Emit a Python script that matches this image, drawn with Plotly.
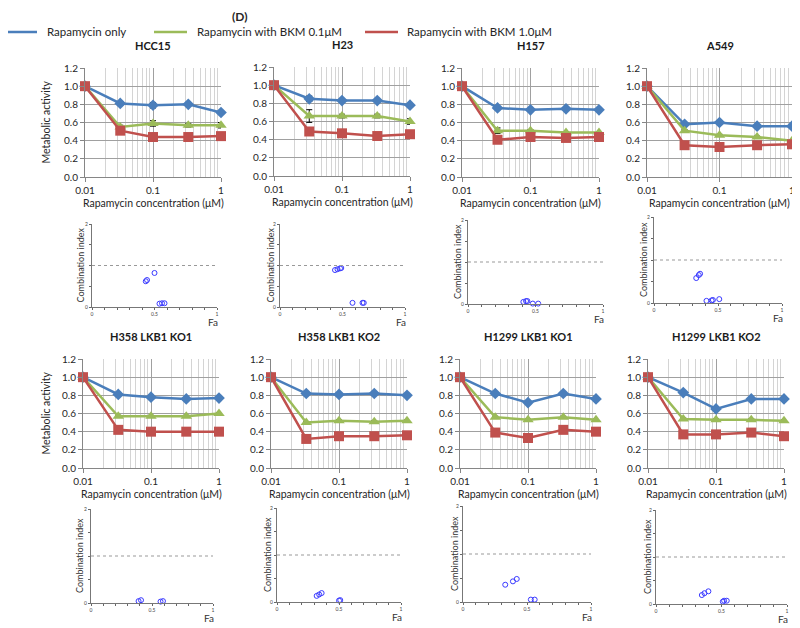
import plotly.graph_objects as go

# rapamycin concentrations (uM), first point is the control
conc = [0.01, 0.033, 0.1, 0.33, 1]

cell_lines = ["HCC15", "H23", "H157", "A549",
              "H358 LKB1 KO1", "H358 LKB1 KO2", "H1299 LKB1 KO1", "H1299 LKB1 KO2"]

# metabolic activity, one row per cell line
rapa_only = [
    [1.0, 0.81, 0.79, 0.80, 0.71],
    [1.0, 0.85, 0.83, 0.83, 0.78],
    [1.0, 0.76, 0.74, 0.75, 0.74],
    [1.0, 0.58, 0.60, 0.56, 0.56],
    [1.0, 0.81, 0.78, 0.76, 0.77],
    [1.0, 0.82, 0.81, 0.82, 0.80],
    [1.0, 0.82, 0.72, 0.82, 0.76],
    [1.0, 0.83, 0.65, 0.76, 0.76],
]
bkm_01 = [
    [1.0, 0.55, 0.59, 0.57, 0.57],
    [1.0, 0.66, 0.66, 0.66, 0.60],
    [1.0, 0.51, 0.51, 0.49, 0.49],
    [1.0, 0.51, 0.46, 0.44, 0.40],
    [1.0, 0.57, 0.57, 0.57, 0.60],
    [1.0, 0.50, 0.52, 0.51, 0.52],
    [1.0, 0.56, 0.53, 0.56, 0.53],
    [1.0, 0.54, 0.53, 0.53, 0.52],
]
bkm_10 = [
    [1.0, 0.51, 0.44, 0.44, 0.45],
    [1.0, 0.49, 0.47, 0.44, 0.46],
    [1.0, 0.41, 0.44, 0.43, 0.44],
    [1.0, 0.35, 0.33, 0.35, 0.36],
    [1.0, 0.42, 0.40, 0.40, 0.40],
    [1.0, 0.32, 0.35, 0.35, 0.36],
    [1.0, 0.39, 0.33, 0.42, 0.40],
    [1.0, 0.37, 0.37, 0.39, 0.35],
]
# error bars (SD)
err_rapa = [
    [0, 0.02, 0.03, 0.01, 0.01],
    [0, 0.03, 0.02, 0.01, 0.01],
    [0, 0.01, 0.01, 0.01, 0.01],
    [0, 0.01, 0.01, 0.01, 0.01],
    [0, 0.01, 0.02, 0.01, 0.01],
    [0, 0.01, 0.01, 0.01, 0.01],
    [0, 0.01, 0.01, 0.01, 0.01],
    [0, 0.01, 0.01, 0.01, 0.01],
]
err_01 = [
    [0, 0.02, 0.03, 0.02, 0.03],
    [0, 0.07, 0.02, 0.02, 0.03],
    [0, 0.03, 0.01, 0.01, 0.01],
    [0, 0.01, 0.01, 0.01, 0.01],
    [0, 0.01, 0.01, 0.01, 0.01],
    [0, 0.01, 0.01, 0.01, 0.01],
    [0, 0.01, 0.01, 0.01, 0.01],
    [0, 0.01, 0.01, 0.01, 0.01],
]

# combination index plots: fraction affected and CI
ci_fa = [
    [0.43, 0.44, 0.50, 0.54, 0.56, 0.58],
    [0.44, 0.46, 0.48, 0.49, 0.58, 0.66, 0.67],
    [0.41, 0.43, 0.44, 0.48, 0.52],
    [0.33, 0.35, 0.36, 0.41, 0.45, 0.46, 0.51],
    [0.39, 0.41, 0.57, 0.59],
    [0.32, 0.34, 0.36, 0.50, 0.51],
    [0.33, 0.39, 0.42, 0.53, 0.56],
    [0.35, 0.37, 0.40, 0.51, 0.52, 0.54],
]
ci_val = [
    [0.62, 0.65, 0.82, 0.08, 0.09, 0.09],
    [0.89, 0.91, 0.93, 0.94, 0.10, 0.10, 0.10],
    [0.05, 0.07, 0.07, 0.01, 0.01],
    [0.58, 0.65, 0.68, 0.05, 0.06, 0.07, 0.09],
    [0.04, 0.06, 0.03, 0.04],
    [0.13, 0.16, 0.19, 0.03, 0.04],
    [0.36, 0.43, 0.48, 0.05, 0.05],
    [0.19, 0.23, 0.27, 0.05, 0.07, 0.07],
]

BLUE = "#4a7ebb"
GREEN = "#9bbb59"
RED = "#c0504d"
FONT = "Lato"

# the page has an 8px body margin, so the figure fills the rest of the window
OFF = 8
W, H = 800 - OFF, 628 - OFF

# plot areas in window pixels: left, right, top, bottom
dr_box = [(85, 221, 68, 177), (274, 410, 67, 176), (462, 599, 68, 177), (647, 792, 68, 177),
          (83, 219, 359, 468), (271, 407, 359, 468), (460, 596, 359, 468), (648, 784, 359, 468)]
ci_box = [(92, 217, 224, 307), (280, 405, 224, 307), (468, 603, 220, 304), (654, 782, 217, 303),
          (91, 213, 509, 603), (277, 401, 508, 602), (463, 591, 506, 602), (656, 787, 510, 604)]
ci_label_x = [80, 270, 457, 643, 79, 267, 454, 647]


def fx(p):
    return (p - OFF) / W


def fy(p):
    return 1 - (p - OFF) / H


def note(text, x, y, size, color="#262626", **kw):
    d = dict(text=text, x=fx(x), y=fy(y), xref="paper", yref="paper", showarrow=False,
             xanchor="center", yanchor="middle", font=dict(size=size, color=color))
    d.update(kw)
    return d


fig = go.Figure()
layout = {}
annotations = []
shapes = []

minor_vals = [m * 10 ** e for e in (-2, -1) for m in range(2, 10)]

for i, name in enumerate(cell_lines):
    n = i + 1
    xa, ya = ("x%d" % n), ("y%d" % n)
    series = [
        (rapa_only[i], err_rapa[i], BLUE, "diamond", 9),
        (bkm_01[i], err_01[i], GREEN, "triangle-up", 10),
        (bkm_10[i], None, RED, "square", 10),
    ]
    for vals, err, col, sym, sz in series:
        fig.add_trace(go.Scatter(
            x=conc, y=vals, xaxis=xa, yaxis=ya, mode="lines+markers",
            line=dict(color=col, width=2.5),
            marker=dict(symbol=sym, size=sz, color=col),
            error_y=dict(type="data", array=err, color="black", thickness=1, width=3,
                         visible=err is not None),
            showlegend=False, cliponaxis=False))

    l, r, t, b = dr_box[i]
    layout["xaxis%d" % n] = dict(
        domain=[fx(l), fx(r)], anchor=ya, type="log", range=[-2, 0], automargin=False,
        tickvals=[0.01, 0.1, 1], ticktext=["0.01", "0.1", "1"],
        showgrid=True, gridcolor="#a0a0a0", gridwidth=1,
        minor=dict(tickvals=minor_vals, showgrid=True, gridcolor="#d4d4d4", ticks=""),
        showline=True, linecolor="#868686", ticks="outside", ticklen=4, tickcolor="#868686",
        tickfont=dict(size=10, color="#262626"), zeroline=False)
    layout["yaxis%d" % n] = dict(
        domain=[fy(b), fy(t)], anchor=xa, range=[0, 1.2], dtick=0.2, tickformat=".1f",
        automargin=False,
        showgrid=True, gridcolor="#a0a0a0", showline=True, linecolor="#868686",
        ticks="outside", ticklen=4, tickcolor="#868686",
        tickfont=dict(size=10, color="#262626"), zeroline=False)

    cx = (l + r) / 2
    annotations.append(note("<b>%s</b>" % name, cx, t - 23, 11, "#1a1a1a"))
    annotations.append(note("Rapamycin concentration (μM)", cx, b + 26, 10.5))
    if i % 4 == 0:
        annotations.append(note("Metabolic activity", 45, (t + b) / 2, 10.5, textangle=-90))

    # combination index panel
    m = i + 9
    cxa, cya = ("x%d" % m), ("y%d" % m)
    fig.add_trace(go.Scatter(
        x=ci_fa[i], y=ci_val[i], xaxis=cxa, yaxis=cya, mode="markers",
        marker=dict(symbol="circle-open", size=5, color="#3a3aff", line=dict(width=1)),
        showlegend=False, cliponaxis=False))
    l, r, t, b = ci_box[i]
    layout["xaxis%d" % m] = dict(
        domain=[fx(l), fx(r)], anchor=cya, range=[0, 1], automargin=False,
        tickvals=[0, 0.5, 1], ticktext=["0", "0.5", "1"],
        minor=dict(dtick=0.1, ticks="outside", ticklen=2, tickcolor="#666"),
        showgrid=False, zeroline=False, showline=True, linecolor="#777", linewidth=1,
        ticks="outside", ticklen=2, tickcolor="#666",
        tickfont=dict(size=5, color="#444"))
    layout["yaxis%d" % m] = dict(
        domain=[fy(b), fy(t)], anchor=cxa, range=[0, 2], automargin=False,
        tickvals=[0, 0.5, 1, 1.5, 2], ticktext=["0", "", "", "", "2"],
        showgrid=False, zeroline=False, showline=True, linecolor="#777", linewidth=1,
        ticks="outside", ticklen=2, tickcolor="#666",
        tickfont=dict(size=5, color="#444"))
    shapes.append(dict(type="line", xref=cxa, yref=cya, x0=0, x1=1, y0=1, y1=1,
                       line=dict(color="#999", width=1, dash="dot")))
    annotations.append(note("Combination index", ci_label_x[i], (t + b) / 2, 9, "#333",
                            textangle=-90))
    annotations.append(note("Fa", r - 4, b + 15, 10, "#333"))

# legend drawn by hand
legend_items = [("Rapamycin only", BLUE, 4, 45), ("Rapamycin with BKM 0.1μM", GREEN, 154, 195),
                ("Rapamycin with BKM 1.0μM", RED, 365, 405)]
for label, col, x0, tx in legend_items:
    shapes.append(dict(type="line", xref="paper", yref="paper", x0=fx(x0), x1=fx(x0 + 33),
                       y0=fy(32), y1=fy(32), line=dict(color=col, width=2.5)))
    annotations.append(note(label, tx, 32, 11.5, xanchor="left"))

annotations.append(note("<b>(D)</b>", 240, 16, 12))

fig.update_layout(
    template="none",
    width=W, height=H, margin=dict(l=0, r=0, t=0, b=0, autoexpand=False),
    paper_bgcolor="white", plot_bgcolor="white", showlegend=False,
    font=dict(family=FONT), annotations=annotations, shapes=shapes, **layout)

fig.write_html("out.html")
